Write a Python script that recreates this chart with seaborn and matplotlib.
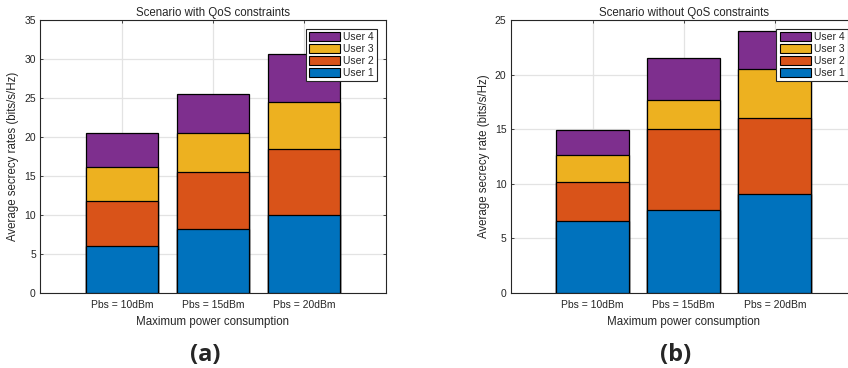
import pandas as pd
import matplotlib.pyplot as plt
import seaborn as sns
from matplotlib.patches import Patch

# data (per-user segments of each stacked bar)
categories = ['Pbs = 10dBm', 'Pbs = 15dBm', 'Pbs = 20dBm']
users = ['User 1', 'User 2', 'User 3', 'User 4']
colors = ['#0072BD', '#D95319', '#EDB120', '#7E2F8E']

qos_u1 = [6.0, 8.2, 10.0]
qos_u2 = [5.8, 7.3, 8.4]
qos_u3 = [4.4, 5.0, 6.1]
qos_u4 = [4.3, 5.0, 6.2]

noqos_u1 = [6.6, 7.6, 9.1]
noqos_u2 = [3.6, 7.4, 6.95]
noqos_u3 = [2.45, 2.7, 4.5]
noqos_u4 = [2.3, 3.85, 3.4]


def long_table(segs):
    rows = []
    for u, vals in zip(users, segs):
        for c, v in zip(categories, vals):
            rows.append({'Power': c, 'User': u, 'Rate': v})
    df = pd.DataFrame(rows)
    df['Cum'] = df.groupby('Power')['Rate'].cumsum()
    return df


def stacked(ax, df, title, ylabel, ymax, tag):
    # draw cumulative totals from top user down so lower segments sit on top
    for u, col in reversed(list(zip(users, colors))):
        sub = df[df['User'] == u]
        sns.barplot(data=sub, x='Power', y='Cum', order=categories, color=col,
                    width=0.8, edgecolor='black', linewidth=0.9, ax=ax,
                    saturation=1, zorder=3)
    ax.set_xlim(-0.9, 2.9)
    ax.set_ylim(0, ymax)
    ax.set_yticks(range(0, ymax + 1, 5))
    ax.set_title(title, fontsize=8.3, pad=3)
    ax.set_xlabel('Maximum power consumption', fontsize=8.3, labelpad=4.5)
    ax.set_ylabel(ylabel, fontsize=8.3, labelpad=3.5)
    ax.grid(True, color='#e3e3e3', linewidth=0.9, zorder=0)
    ax.set_axisbelow(True)
    ax.tick_params(direction='in', length=2.5, width=0.6, labelsize=7.5,
                   bottom=True, left=True, top=True, right=True,
                   colors='#262626', pad=3)
    ax.tick_params(axis='x', pad=5)
    for s in ax.spines.values():
        s.set_color('#262626')
        s.set_linewidth(0.8)
    handles = [Patch(facecolor=c, edgecolor='black', linewidth=0.8) for c in colors]
    leg = ax.legend(handles[::-1], users[::-1], loc='upper right', fontsize=7.5,
                    frameon=True, fancybox=False, edgecolor='#262626',
                    framealpha=1, borderpad=0.3, labelspacing=0.2,
                    handlelength=3.0, handleheight=0.9, handletextpad=0.3,
                    borderaxespad=0.85)
    leg.get_frame().set_linewidth(0.8)
    leg.set_zorder(10)
    ax.text(0.477, -0.226, tag, transform=ax.transAxes, ha='center', va='center',
            fontsize=17, fontweight='bold', family='Open Sans')


sns.set_style('white')
plt.rcParams['font.family'] = ['Liberation Sans', 'DejaVu Sans']

fig = plt.figure(figsize=(8.48, 3.68), dpi=100)
ax1 = fig.add_axes([40 / 848, 75 / 368, 346 / 848, 273 / 368])
ax2 = fig.add_axes([510.7 / 848, 75 / 368, 346 / 848, 273 / 368])

stacked(ax1, long_table([qos_u1, qos_u2, qos_u3, qos_u4]),
        'Scenario with QoS constraints', 'Average secrecy rates (bits/s/Hz)', 35, '(a)')
stacked(ax2, long_table([noqos_u1, noqos_u2, noqos_u3, noqos_u4]),
        'Scenario without QoS constraints', 'Average secrecy rate (bits/s/Hz)', 25, '(b)')

fig.savefig('out.png', dpi=100)
